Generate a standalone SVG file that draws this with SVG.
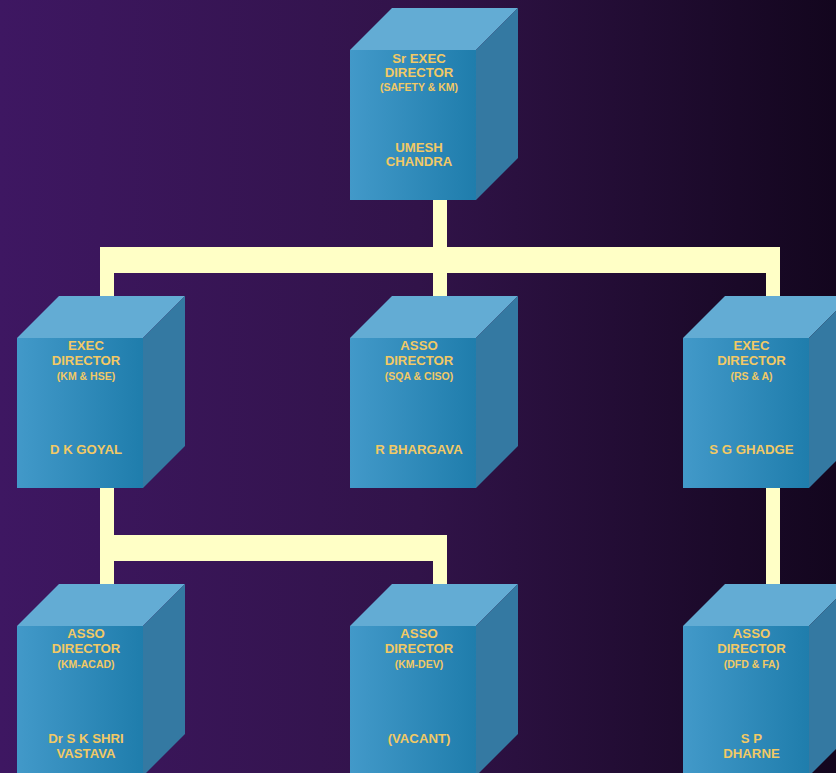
<svg xmlns="http://www.w3.org/2000/svg" width="836" height="773" viewBox="0 0 836 773">
<defs>
<linearGradient id="bg" x1="0" y1="0" x2="1" y2="0">
<stop offset="0" stop-color="#3E1762"/>
<stop offset="0.5" stop-color="#311349"/>
<stop offset="1" stop-color="#13061E"/>
</linearGradient>
<linearGradient id="front" x1="0" y1="0" x2="1" y2="0">
<stop offset="0" stop-color="#4299C9"/>
<stop offset="1" stop-color="#1F7DAC"/>
</linearGradient>
<style>
.top{fill:#63ACD4}
.side{fill:#3479A2}
.front{fill:url(#front)}
.conn{fill:#FFFFC6}
text{font-family:"Liberation Sans",Arial,sans-serif;font-weight:bold;fill:#F2C965;text-anchor:middle}
.t{font-size:13.2px}
.s{font-size:10.5px}
</style>
</defs>
<rect x="0" y="0" width="836" height="773" fill="url(#bg)"/>
<g id="connectors">
<rect class="conn" x="433" y="195" width="14" height="55"/>
<rect class="conn" x="100" y="247" width="680" height="26"/>
<rect class="conn" x="100" y="260" width="14" height="50"/>
<rect class="conn" x="433" y="260" width="14" height="50"/>
<rect class="conn" x="766" y="260" width="14" height="50"/>
<rect class="conn" x="100" y="480" width="14" height="120"/>
<rect class="conn" x="100" y="535" width="347" height="26"/>
<rect class="conn" x="433" y="540" width="14" height="60"/>
<rect class="conn" x="766" y="480" width="14" height="120"/>
</g>
<g id="node-umesh">
<polygon class="top" points="350,50 392,8 518,8 476,50"/>
<polygon class="side" points="476,50 518,8 518,158 476,200"/>
<rect class="front" x="350" y="50" width="126" height="150"/>
<text class="t" x="419" y="62.5">Sr EXEC</text>
<text class="t" x="419" y="77.3">DIRECTOR</text>
<text class="s" x="419" y="90.5">(SAFETY &amp; KM)</text>
<text class="t" x="419" y="151.7">UMESH</text>
<text class="t" x="419" y="165.7">CHANDRA</text>
</g>
<g id="node-goyal">
<polygon class="top" points="17,338 59,296 185,296 143,338"/>
<polygon class="side" points="143,338 185,296 185,446 143,488"/>
<rect class="front" x="17" y="338" width="126" height="150"/>
<text class="t" x="86" y="350.3">EXEC</text>
<text class="t" x="86" y="365.3">DIRECTOR</text>
<text class="s" x="86" y="379.5">(KM &amp; HSE)</text>
<text class="t" x="86" y="454">D K GOYAL</text>
</g>
<g id="node-bhargava">
<polygon class="top" points="350,338 392,296 518,296 476,338"/>
<polygon class="side" points="476,338 518,296 518,446 476,488"/>
<rect class="front" x="350" y="338" width="126" height="150"/>
<text class="t" x="419" y="350.3">ASSO</text>
<text class="t" x="419" y="365.3">DIRECTOR</text>
<text class="s" x="419" y="379.5">(SQA &amp; CISO)</text>
<text class="t" x="419" y="454">R BHARGAVA</text>
</g>
<g id="node-ghadge">
<polygon class="top" points="683,338 725,296 851,296 809,338"/>
<polygon class="side" points="809,338 851,296 851,446 809,488"/>
<rect class="front" x="683" y="338" width="126" height="150"/>
<text class="t" x="751.5" y="350.3">EXEC</text>
<text class="t" x="751.5" y="365.3">DIRECTOR</text>
<text class="s" x="751.5" y="379.5">(RS &amp; A)</text>
<text class="t" x="751.5" y="454">S G GHADGE</text>
</g>
<g id="node-shrivastava">
<polygon class="top" points="17,626 59,584 185,584 143,626"/>
<polygon class="side" points="143,626 185,584 185,734 143,776"/>
<rect class="front" x="17" y="626" width="126" height="150"/>
<text class="t" x="86" y="638.3">ASSO</text>
<text class="t" x="86" y="653.3">DIRECTOR</text>
<text class="s" x="86" y="667.5">(KM-ACAD)</text>
<text class="t" x="86" y="742.5">Dr S K SHRI</text>
<text class="t" x="86" y="757.8">VASTAVA</text>
</g>
<g id="node-vacant">
<polygon class="top" points="350,626 392,584 518,584 476,626"/>
<polygon class="side" points="476,626 518,584 518,734 476,776"/>
<rect class="front" x="350" y="626" width="126" height="150"/>
<text class="t" x="419" y="638.3">ASSO</text>
<text class="t" x="419" y="653.3">DIRECTOR</text>
<text class="s" x="419" y="667.5">(KM-DEV)</text>
<text class="t" x="419" y="742.5">(VACANT)</text>
</g>
<g id="node-dharne">
<polygon class="top" points="683,626 725,584 851,584 809,626"/>
<polygon class="side" points="809,626 851,584 851,734 809,776"/>
<rect class="front" x="683" y="626" width="126" height="150"/>
<text class="t" x="751.5" y="638.3">ASSO</text>
<text class="t" x="751.5" y="653.3">DIRECTOR</text>
<text class="s" x="751.5" y="667.5">(DFD &amp; FA)</text>
<text class="t" x="751.5" y="742.5">S P</text>
<text class="t" x="751.5" y="757.8">DHARNE</text>
</g>
</svg>
